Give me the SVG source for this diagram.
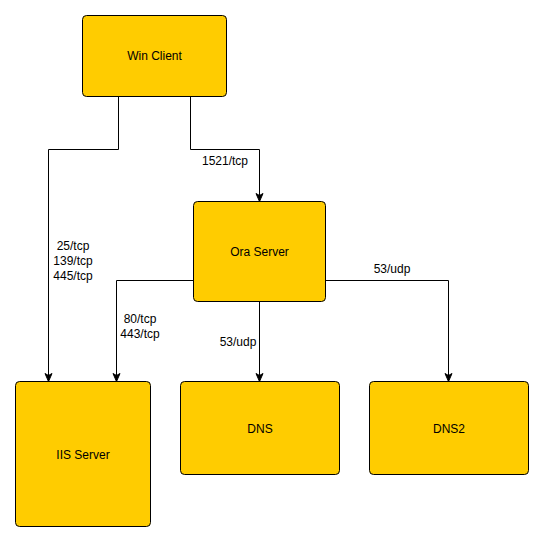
<svg xmlns="http://www.w3.org/2000/svg" width="544" height="542" viewBox="0 0 544 542">
<style>
.node rect{fill:#ffcc00;stroke:#000;stroke-width:1}
text{font-family:"Liberation Sans",Arial,sans-serif;font-size:12px;fill:#000;text-anchor:middle;dominant-baseline:central}
.edge path{fill:none;stroke:#000;stroke-width:1}
</style>
<defs>
<marker id="arr" markerUnits="userSpaceOnUse" markerWidth="10" markerHeight="10" viewBox="0 0 10 10" refX="9" refY="5" orient="auto">
<path d="M1,1.5 L9,5 L1,8.5 L3,5 z" fill="#000" stroke="#000" stroke-width="1"/>
</marker>
</defs>
<rect width="544" height="542" fill="#fff"/>
<g class="edge" id="connectors">
<path d="M118.5,96.5 V149.5 H48.5 V381.5" marker-end="url(#arr)"/>
<path d="M190.5,96.5 V149.5 H259.5 V201.5" marker-end="url(#arr)"/>
<path d="M193.5,280.5 H116.5 V381.5" marker-end="url(#arr)"/>
<path d="M259.5,301.5 V381.5" marker-end="url(#arr)"/>
<path d="M325.5,280.5 H448.5 V381.5" marker-end="url(#arr)"/>
<text x="225" y="161">1521/tcp</text>
<text x="73" y="246">25/tcp</text>
<text x="73" y="261">139/tcp</text>
<text x="73" y="276">445/tcp</text>
<text x="140" y="318.5">80/tcp</text>
<text x="140" y="333.5">443/tcp</text>
<text x="238" y="342">53/udp</text>
<text x="392" y="269">53/udp</text>
</g>
<g class="node" id="win-client"><rect x="82.5" y="15.5" width="144" height="81" rx="4"/><text x="154.5" y="56">Win Client</text></g>
<g class="node" id="ora-server"><rect x="193.5" y="201.5" width="132" height="100" rx="4"/><text x="259.5" y="251.5">Ora Server</text></g>
<g class="node" id="iis-server"><rect x="15.5" y="381.5" width="135" height="145" rx="4"/><text x="83" y="454.5">IIS Server</text></g>
<g class="node" id="dns"><rect x="180.5" y="381.5" width="159" height="93" rx="4"/><text x="260" y="428.5">DNS</text></g>
<g class="node" id="dns2"><rect x="369.5" y="381.5" width="159" height="93" rx="4"/><text x="449" y="428.5">DNS2</text></g>
</svg>
